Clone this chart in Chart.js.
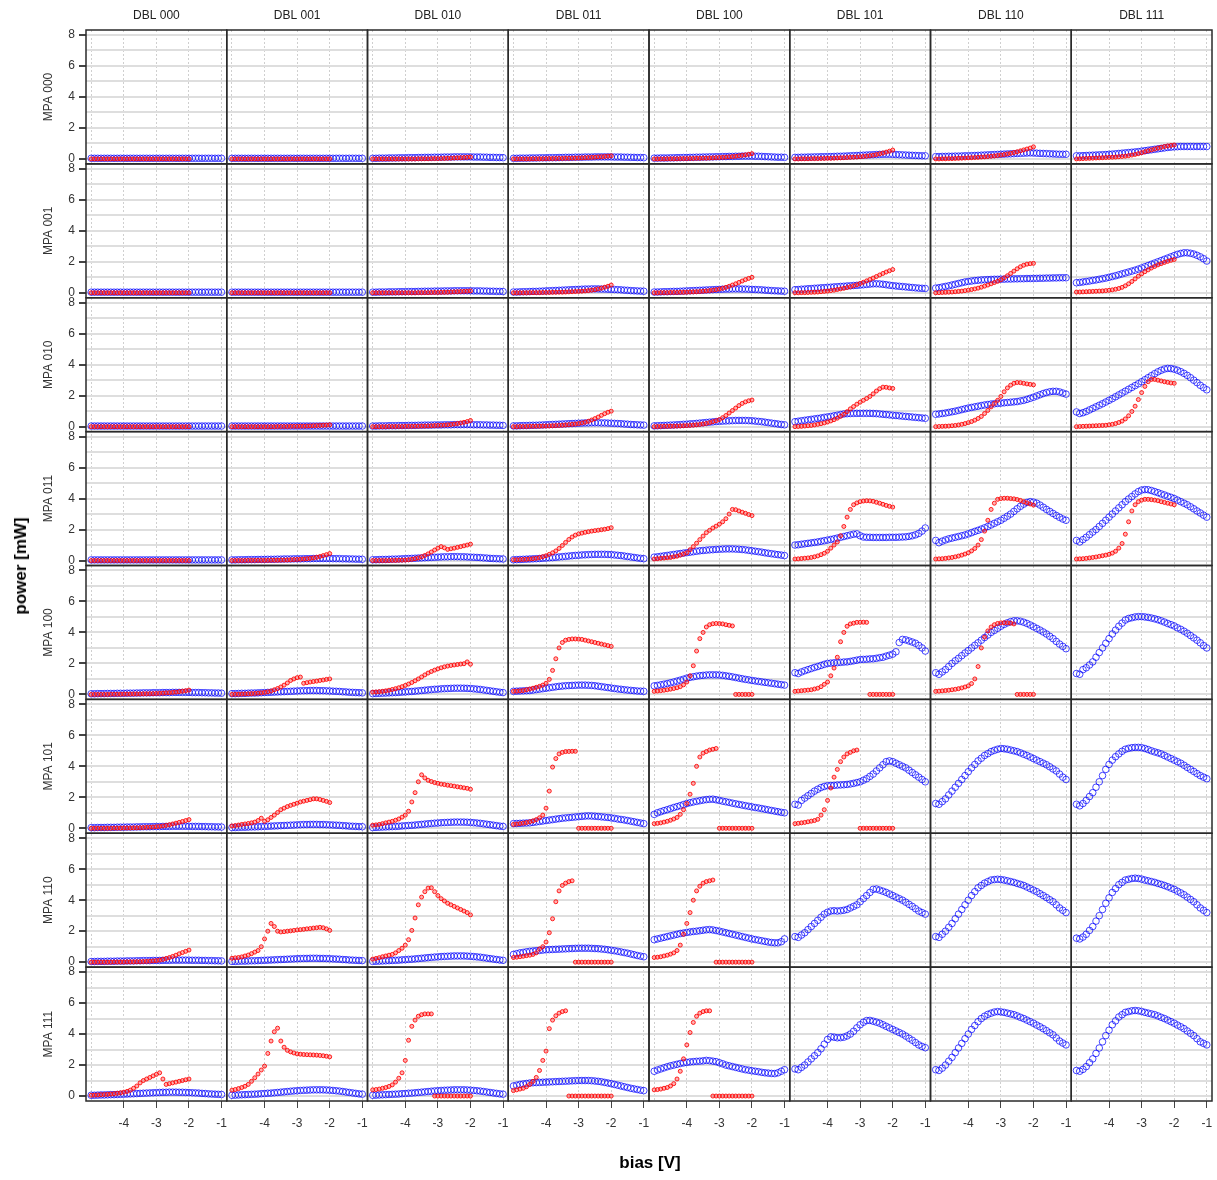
<!DOCTYPE html>
<html>
<head>
<meta charset="utf-8">
<script src="https://cdn.jsdelivr.net/npm/chart.js@4.4.1/dist/chart.umd.min.js"></script>
<style>
  body { margin: 0; background: #fff; }
  #wrap { position: relative; width: 1217px; height: 1180px; }
  .axlab { position: absolute; font: bold 17px "Liberation Sans", Arial, sans-serif; color: #000; white-space: nowrap; }
</style>
</head>
<body>
<div id="wrap">
  <canvas id="grid"></canvas>
  <div class="axlab" style="left:21px;top:566px;transform:translate(-50%,-50%) rotate(-90deg);">power [mW]</div>
  <div class="axlab" style="left:650px;top:1163px;transform:translate(-50%,-50%);">bias [V]</div>
</div>
<script>
// panel labels
const dblLabels = ["DBL 000", "DBL 001", "DBL 010", "DBL 011", "DBL 100", "DBL 101", "DBL 110", "DBL 111"];
const mpaLabels = ["MPA 000", "MPA 001", "MPA 010", "MPA 011", "MPA 100", "MPA 101", "MPA 110", "MPA 111"];

// bias values of the two sweeps
const biasOpen = [-5,-4.9,-4.8,-4.7,-4.6,-4.5,-4.4,-4.3,-4.2,-4.1,
  -4,-3.9,-3.8,-3.7,-3.6,-3.5,-3.4,-3.3,-3.2,-3.1,
  -3,-2.9,-2.8,-2.7,-2.6,-2.5,-2.4,-2.3,-2.2,-2.1,
  -2,-1.9,-1.8,-1.7,-1.6,-1.5,-1.4,-1.3,-1.2,-1.1,
  -1];
const biasDot = [-5,-4.9,-4.8,-4.7,-4.6,-4.5,-4.4,-4.3,-4.2,-4.1,
  -4,-3.9,-3.8,-3.7,-3.6,-3.5,-3.4,-3.3,-3.2,-3.1,
  -3,-2.9,-2.8,-2.7,-2.6,-2.5,-2.4,-2.3,-2.2,-2.1,
  -2];

// curves that repeat in several panels
const flatOpen = [0.04,0.04,0.04,0.04,0.04,0.04,0.04,0.04,0.04,0.04,
  0.04,0.04,0.04,0.04,0.04,0.04,0.04,0.04,0.04,0.04,
  0.04,0.04,0.04,0.04,0.04,0.04,0.04,0.04,0.04,0.04,
  0.04,0.04,0.04,0.04,0.04,0.04,0.04,0.04,0.04,0.04,
  0.04];
const lowOpen = [0.04,0.04,0.05,0.05,0.05,0.06,0.06,0.06,0.07,0.07,
  0.07,0.08,0.08,0.08,0.09,0.09,0.1,0.1,0.1,0.11,
  0.11,0.11,0.12,0.12,0.12,0.13,0.13,0.13,0.13,0.13,
  0.13,0.12,0.12,0.12,0.11,0.11,0.1,0.1,0.09,0.09,
  0.08];
const midOpen = [0.05,0.05,0.06,0.07,0.07,0.08,0.09,0.09,0.1,0.11,
  0.12,0.13,0.14,0.15,0.16,0.17,0.18,0.19,0.2,0.21,
  0.22,0.23,0.24,0.24,0.25,0.25,0.25,0.24,0.24,0.23,
  0.22,0.21,0.2,0.19,0.17,0.16,0.14,0.13,0.12,0.11,
  0.1];
const highOpen = [0.05,0.06,0.07,0.08,0.09,0.1,0.11,0.12,0.13,0.15,
  0.16,0.18,0.19,0.21,0.23,0.25,0.27,0.29,0.31,0.33,
  0.34,0.36,0.37,0.38,0.39,0.4,0.4,0.4,0.4,0.39,
  0.38,0.36,0.34,0.32,0.29,0.26,0.23,0.2,0.17,0.14,
  0.12];
const flatDot = [0,0,0,0,0,0,0,0,0,0,
  0,0,0,0,0,0,0,0,0,0,
  0,0,0,0,0,0,0,0,0,0,
  0];
const creepDot = [0,0,0,0,0,0,0,0,0,0,
  0,0,0,0,0.01,0.01,0.01,0.01,0.02,0.02,
  0.02,0.03,0.03,0.04,0.05,0.06,0.07,0.08,0.09,0.1,
  0.12];

// power [mW], one row of panels per MPA setting (open circles / dots)
const openMPA000 = [flatOpen, flatOpen, lowOpen, lowOpen,
  [0.05,0.05,0.06,0.06,0.06,0.07,0.07,0.08,0.08,0.09,
   0.09,0.1,0.1,0.11,0.11,0.12,0.12,0.13,0.13,0.14,
   0.14,0.15,0.15,0.16,0.16,0.17,0.17,0.18,0.18,0.18,
   0.18,0.17,0.17,0.16,0.15,0.14,0.13,0.12,0.11,0.11,
   0.1],
  [0.1,0.1,0.11,0.11,0.12,0.12,0.13,0.13,0.14,0.14,
   0.15,0.15,0.16,0.17,0.17,0.18,0.19,0.2,0.21,0.22,
   0.23,0.24,0.25,0.26,0.27,0.28,0.29,0.3,0.3,0.3,
   0.29,0.28,0.27,0.26,0.25,0.24,0.23,0.22,0.21,0.2,
   0.2],
  [0.15,0.15,0.16,0.16,0.17,0.17,0.18,0.18,0.19,0.2,
   0.2,0.21,0.22,0.23,0.24,0.25,0.26,0.27,0.28,0.29,
   0.3,0.31,0.32,0.33,0.34,0.35,0.36,0.37,0.38,0.39,
   0.38,0.37,0.36,0.35,0.34,0.33,0.32,0.31,0.3,0.3,
   0.3],
  [0.2,0.2,0.21,0.22,0.23,0.24,0.25,0.26,0.27,0.28,
   0.3,0.31,0.33,0.35,0.37,0.39,0.41,0.43,0.45,0.47,
   0.5,0.53,0.56,0.59,0.62,0.65,0.68,0.71,0.74,0.76,
   0.78,0.79,0.8,0.8,0.8,0.8,0.8,0.8,0.8,0.8,
   0.8]];
const dotMPA000 = [flatDot, flatDot, creepDot,
  [0,0,0,0,0,0,0.01,0.01,0.01,0.01,
   0.02,0.02,0.02,0.03,0.03,0.03,0.04,0.04,0.05,0.05,
   0.06,0.07,0.08,0.09,0.1,0.11,0.13,0.14,0.16,0.18,
   0.2],
  [0,0,0,0,0.01,0.01,0.01,0.01,0.02,0.02,
   0.02,0.03,0.03,0.04,0.04,0.05,0.05,0.06,0.07,0.08,
   0.09,0.1,0.11,0.13,0.15,0.17,0.2,0.23,0.26,0.3,
   0.34],
  [0,0,0.01,0.01,0.01,0.02,0.02,0.02,0.03,0.03,
   0.04,0.04,0.05,0.06,0.07,0.08,0.09,0.1,0.11,0.12,
   0.14,0.16,0.18,0.21,0.24,0.28,0.33,0.38,0.44,0.5,
   0.57],
  [0,0,0.01,0.01,0.02,0.02,0.03,0.04,0.05,0.06,
   0.07,0.08,0.09,0.1,0.12,0.13,0.15,0.17,0.19,0.22,
   0.25,0.28,0.32,0.36,0.41,0.46,0.52,0.58,0.64,0.7,
   0.78],
  [0,0.01,0.02,0.03,0.04,0.05,0.06,0.07,0.08,0.09,
   0.1,0.11,0.12,0.14,0.16,0.18,0.21,0.25,0.29,0.34,
   0.4,0.46,0.52,0.58,0.64,0.7,0.75,0.8,0.84,0.87,
   0.9]];

const openMPA001 = [flatOpen, flatOpen, lowOpen, midOpen, midOpen,
  [0.2,0.21,0.23,0.24,0.26,0.27,0.29,0.3,0.32,0.33,
   0.35,0.36,0.38,0.39,0.41,0.42,0.44,0.45,0.47,0.48,
   0.5,0.52,0.54,0.56,0.58,0.58,0.57,0.55,0.52,0.49,
   0.46,0.44,0.42,0.4,0.38,0.36,0.34,0.32,0.3,0.29,
   0.28],
  [0.3,0.33,0.37,0.41,0.45,0.5,0.55,0.6,0.65,0.7,
   0.73,0.76,0.79,0.81,0.83,0.84,0.85,0.86,0.87,0.87,
   0.88,0.88,0.89,0.89,0.9,0.9,0.91,0.91,0.92,0.92,
   0.93,0.93,0.94,0.94,0.95,0.95,0.96,0.96,0.97,0.97,
   0.97],
  [0.65,0.67,0.7,0.73,0.76,0.8,0.83,0.87,0.91,0.95,
   1.0,1.05,1.1,1.16,1.22,1.28,1.34,1.4,1.46,1.53,
   1.6,1.68,1.76,1.84,1.92,2.0,2.08,2.16,2.24,2.32,
   2.4,2.48,2.54,2.58,2.58,2.55,2.5,2.42,2.32,2.2,
   2.05]];
const dotMPA001 = [flatDot, flatDot, creepDot,
  [0,0,0,0,0,0.01,0.01,0.01,0.01,0.02,
   0.02,0.02,0.03,0.03,0.04,0.04,0.05,0.06,0.07,0.08,
   0.09,0.1,0.12,0.14,0.17,0.2,0.25,0.3,0.36,0.42,
   0.5],
  [0,0,0.01,0.01,0.01,0.02,0.02,0.02,0.03,0.03,
   0.04,0.05,0.06,0.07,0.08,0.1,0.12,0.14,0.17,0.2,
   0.24,0.29,0.35,0.42,0.5,0.58,0.67,0.76,0.85,0.93,
   1.0],
  [0,0,0.01,0.01,0.02,0.03,0.04,0.05,0.07,0.09,
   0.11,0.14,0.17,0.21,0.25,0.29,0.34,0.39,0.45,0.51,
   0.6,0.68,0.77,0.86,0.95,1.05,1.15,1.25,1.34,1.42,
   1.5],
  [0,0.01,0.02,0.03,0.04,0.05,0.07,0.09,0.11,0.14,
   0.17,0.21,0.25,0.3,0.36,0.43,0.5,0.58,0.66,0.74,
   0.84,0.96,1.1,1.25,1.4,1.55,1.68,1.78,1.85,1.88,
   1.9],
  [0.05,0.05,0.06,0.07,0.08,0.09,0.1,0.11,0.12,0.14,
   0.16,0.19,0.23,0.28,0.35,0.45,0.58,0.73,0.9,1.07,
   1.22,1.36,1.48,1.6,1.7,1.8,1.88,1.96,2.03,2.1,
   2.15]];

const openMPA010 = [flatOpen, flatOpen, lowOpen, midOpen, highOpen,
  [0.32,0.35,0.38,0.41,0.44,0.47,0.5,0.53,0.56,0.6,
   0.63,0.66,0.7,0.74,0.78,0.82,0.84,0.85,0.86,0.86,
   0.86,0.86,0.86,0.86,0.85,0.84,0.82,0.8,0.78,0.76,
   0.74,0.72,0.7,0.68,0.66,0.64,0.62,0.6,0.58,0.56,
   0.54],
  [0.8,0.82,0.85,0.88,0.92,0.96,1.0,1.05,1.1,1.15,
   1.2,1.24,1.28,1.32,1.36,1.4,1.43,1.46,1.48,1.5,
   1.52,1.54,1.56,1.58,1.6,1.62,1.66,1.7,1.76,1.83,
   1.9,1.98,2.06,2.14,2.2,2.25,2.28,2.28,2.24,2.17,
   2.1],
  [0.95,0.85,0.9,0.98,1.08,1.18,1.28,1.38,1.48,1.59,
   1.7,1.81,1.93,2.05,2.17,2.29,2.41,2.53,2.65,2.77,
   2.9,3.03,3.16,3.29,3.42,3.54,3.64,3.72,3.76,3.75,
   3.71,3.64,3.55,3.44,3.31,3.16,3.0,2.84,2.67,2.52,
   2.38]];
const dotMPA010 = [flatDot, creepDot,
  [0,0,0,0,0,0.01,0.01,0.01,0.01,0.01,
   0.02,0.02,0.02,0.03,0.03,0.04,0.04,0.05,0.06,0.07,
   0.08,0.09,0.1,0.12,0.14,0.17,0.2,0.24,0.28,0.33,
   0.4],
  [0,0,0.01,0.01,0.01,0.02,0.02,0.03,0.03,0.04,
   0.04,0.05,0.06,0.07,0.08,0.09,0.11,0.13,0.15,0.17,
   0.2,0.24,0.29,0.35,0.43,0.52,0.62,0.73,0.84,0.93,
   1.0],
  [0,0.01,0.01,0.02,0.02,0.03,0.03,0.04,0.05,0.06,
   0.07,0.08,0.1,0.12,0.14,0.17,0.21,0.26,0.32,0.38,
   0.46,0.58,0.72,0.88,1.04,1.2,1.36,1.5,1.6,1.67,
   1.72],
  [0,0.01,0.02,0.04,0.06,0.08,0.11,0.15,0.19,0.24,
   0.3,0.37,0.45,0.55,0.67,0.8,0.97,1.15,1.3,1.45,
   1.58,1.7,1.82,1.95,2.12,2.3,2.45,2.55,2.54,2.5,
   2.47],
  [0,0.01,0.02,0.03,0.04,0.06,0.08,0.11,0.15,0.2,
   0.26,0.33,0.42,0.53,0.66,0.85,1.05,1.28,1.5,1.7,
   1.95,2.25,2.5,2.68,2.8,2.85,2.84,2.8,2.76,2.73,
   2.7],
  [0,0.01,0.02,0.03,0.04,0.05,0.06,0.07,0.08,0.09,
   0.12,0.15,0.2,0.27,0.36,0.5,0.7,0.98,1.32,1.75,
   2.2,2.6,2.9,3.05,3.05,3.0,2.95,2.9,2.86,2.82,
   2.8]];

const openMPA011 = [flatOpen, lowOpen, midOpen, highOpen,
  [0.22,0.24,0.27,0.3,0.33,0.36,0.39,0.42,0.45,0.48,
   0.51,0.54,0.57,0.6,0.63,0.65,0.67,0.69,0.7,0.72,
   0.73,0.74,0.75,0.75,0.75,0.74,0.73,0.71,0.69,0.66,
   0.63,0.6,0.57,0.54,0.5,0.47,0.44,0.41,0.38,0.35,
   0.32],
  [1.0,1.02,1.05,1.08,1.11,1.14,1.17,1.2,1.24,1.28,
   1.32,1.36,1.4,1.45,1.5,1.55,1.6,1.65,1.7,1.72,
   1.6,1.52,1.5,1.5,1.49,1.49,1.49,1.49,1.49,1.5,
   1.5,1.5,1.51,1.52,1.53,1.56,1.6,1.66,1.75,1.9,
   2.1],
  [1.3,1.15,1.25,1.33,1.4,1.45,1.5,1.55,1.6,1.65,
   1.72,1.8,1.88,1.95,2.03,2.11,2.2,2.3,2.4,2.5,
   2.6,2.73,2.86,3.0,3.17,3.34,3.5,3.64,3.75,3.8,
   3.77,3.7,3.58,3.44,3.3,3.17,3.04,2.91,2.79,2.68,
   2.6],
  [1.3,1.2,1.35,1.5,1.67,1.84,2.0,2.2,2.4,2.6,
   2.8,3.0,3.2,3.4,3.6,3.8,3.97,4.13,4.3,4.45,
   4.55,4.58,4.57,4.52,4.45,4.38,4.3,4.23,4.15,4.08,
   4.0,3.9,3.8,3.7,3.6,3.47,3.34,3.2,3.07,2.93,
   2.8]];
const dotMPA011 = [flatDot,
  [0,0,0,0,0,0.01,0.01,0.01,0.01,0.01,
   0.01,0.01,0.02,0.02,0.02,0.03,0.03,0.04,0.05,0.06,
   0.07,0.08,0.1,0.12,0.14,0.17,0.21,0.26,0.32,0.38,
   0.45],
  [0,0,0,0,0,0,0.01,0.01,0.02,0.02,
   0.03,0.05,0.08,0.12,0.17,0.24,0.33,0.43,0.55,0.68,
   0.8,0.9,0.82,0.72,0.76,0.8,0.85,0.9,0.95,1.0,
   1.06],
  [0.05,0.05,0.06,0.07,0.08,0.1,0.12,0.15,0.19,0.25,
   0.31,0.4,0.5,0.62,0.78,0.97,1.17,1.36,1.52,1.64,
   1.72,1.77,1.82,1.86,1.9,1.93,1.96,1.99,2.02,2.06,
   2.12],
  [0.1,0.12,0.14,0.16,0.18,0.2,0.24,0.28,0.35,0.42,
   0.5,0.7,0.9,1.12,1.35,1.58,1.8,1.95,2.1,2.22,
   2.35,2.5,2.7,3.0,3.3,3.28,3.2,3.12,3.05,2.97,
   2.9],
  [0.1,0.11,0.13,0.15,0.17,0.2,0.24,0.3,0.38,0.47,
   0.6,0.8,1.0,1.2,1.6,2.2,2.8,3.3,3.6,3.72,
   3.8,3.84,3.86,3.85,3.82,3.76,3.7,3.63,3.56,3.5,
   3.45],
  [0.1,0.11,0.12,0.14,0.17,0.2,0.24,0.29,0.35,0.42,
   0.5,0.62,0.78,1.0,1.35,1.9,2.6,3.3,3.7,3.95,
   4.0,4.02,4.02,4.0,3.98,3.94,3.88,3.8,3.72,3.65,
   3.58],
  [0.1,0.11,0.12,0.14,0.17,0.2,0.23,0.27,0.31,0.35,
   0.4,0.48,0.6,0.8,1.1,1.7,2.5,3.2,3.6,3.8,
   3.9,3.95,3.95,3.93,3.9,3.86,3.8,3.75,3.7,3.65,
   3.6]];

const openMPA100 = [lowOpen, midOpen, highOpen,
  [0.2,0.21,0.22,0.23,0.24,0.25,0.28,0.31,0.34,0.37,
   0.4,0.43,0.46,0.49,0.52,0.54,0.56,0.57,0.58,0.59,
   0.6,0.6,0.6,0.59,0.58,0.56,0.53,0.5,0.47,0.44,
   0.41,0.38,0.35,0.33,0.3,0.28,0.26,0.24,0.22,0.21,
   0.2],
  [0.55,0.58,0.62,0.66,0.7,0.75,0.8,0.86,0.92,0.98,
   1.05,1.1,1.14,1.18,1.21,1.23,1.25,1.26,1.26,1.26,
   1.25,1.23,1.2,1.17,1.13,1.09,1.05,1.01,0.97,0.94,
   0.9,0.87,0.84,0.81,0.78,0.75,0.72,0.69,0.66,0.63,
   0.6],
  [1.4,1.35,1.45,1.53,1.6,1.67,1.74,1.8,1.87,1.94,
   2.0,2.02,2.04,2.05,2.07,2.09,2.1,2.13,2.17,2.21,
   2.25,2.26,2.27,2.29,2.3,2.33,2.37,2.4,2.47,2.53,
   2.6,2.75,3.35,3.55,3.52,3.45,3.38,3.3,3.16,3.0,
   2.8],
  [1.4,1.3,1.45,1.6,1.8,2.0,2.17,2.33,2.5,2.67,
   2.83,3.0,3.17,3.33,3.5,3.67,3.83,4.0,4.13,4.27,
   4.4,4.52,4.62,4.7,4.75,4.75,4.72,4.66,4.58,4.48,
   4.37,4.26,4.15,4.03,3.9,3.75,3.6,3.42,3.25,3.1,
   2.95],
  [1.35,1.3,1.6,1.72,1.9,2.1,2.4,2.7,3.0,3.3,
   3.6,3.9,4.15,4.4,4.6,4.8,4.9,4.95,5.0,5.02,
   5.02,5.0,4.97,4.93,4.88,4.82,4.75,4.67,4.58,4.5,
   4.42,4.3,4.2,4.08,3.95,3.8,3.65,3.5,3.33,3.15,
   3.0]];
const dotMPA100 = [
  [0,0,0,0,0,0,0.01,0.01,0.01,0.01,
   0.02,0.02,0.02,0.03,0.03,0.03,0.04,0.04,0.05,0.05,
   0.06,0.07,0.08,0.1,0.11,0.13,0.15,0.18,0.21,0.24,
   0.28],
  [0,0.01,0.01,0.02,0.03,0.04,0.05,0.06,0.08,0.1,
   0.13,0.17,0.22,0.3,0.38,0.48,0.6,0.74,0.9,1.0,
   1.08,1.12,0.72,0.76,0.8,0.83,0.86,0.9,0.93,0.97,
   1.0],
  [0.15,0.16,0.18,0.2,0.23,0.27,0.32,0.37,0.43,0.5,
   0.58,0.67,0.77,0.88,1.0,1.13,1.26,1.38,1.48,1.57,
   1.65,1.72,1.78,1.83,1.87,1.9,1.93,1.96,1.98,2.1,
   1.95],
  [0.2,0.21,0.23,0.25,0.3,0.35,0.4,0.46,0.52,0.6,
   0.72,0.97,1.55,2.3,3.0,3.35,3.5,3.55,3.58,3.58,
   3.57,3.55,3.5,3.45,3.4,3.35,3.3,3.25,3.2,3.15,
   3.1],
  [0.2,0.22,0.24,0.27,0.3,0.34,0.38,0.43,0.5,0.62,
   0.8,1.2,1.85,2.8,3.6,4.0,4.35,4.5,4.56,4.58,
   4.57,4.55,4.5,4.46,4.42,0,0,0,0,0,
   0],
  [0.2,0.22,0.24,0.26,0.28,0.3,0.35,0.4,0.5,0.65,
   0.8,1.2,1.7,2.4,3.4,4.0,4.4,4.55,4.6,4.65,
   4.65,4.66,4.65,0,0,0,0,0,0,0,
   0],
  [0.2,0.21,0.23,0.25,0.27,0.3,0.33,0.37,0.42,0.48,
   0.55,0.7,1.0,1.8,3.0,3.7,4.1,4.35,4.5,4.58,
   4.62,4.63,4.62,4.6,4.55,0,0,0,0,0,
   0],
  []];

const openMPA101 = [lowOpen, midOpen, highOpen,
  [0.3,0.31,0.32,0.33,0.34,0.35,0.38,0.41,0.44,0.47,
   0.5,0.53,0.56,0.59,0.62,0.65,0.67,0.69,0.71,0.73,
   0.75,0.77,0.79,0.8,0.79,0.78,0.76,0.74,0.72,0.7,
   0.67,0.64,0.6,0.57,0.54,0.5,0.46,0.42,0.38,0.34,
   0.3],
  [0.9,1.0,1.07,1.14,1.2,1.27,1.34,1.4,1.46,1.53,
   1.6,1.65,1.7,1.74,1.78,1.82,1.85,1.87,1.88,1.84,
   1.8,1.75,1.71,1.67,1.62,1.58,1.54,1.5,1.46,1.42,
   1.38,1.34,1.31,1.27,1.23,1.19,1.15,1.11,1.07,1.03,
   1.0],
  [1.55,1.5,1.8,1.95,2.1,2.25,2.4,2.52,2.63,2.7,
   2.75,2.76,2.77,2.79,2.8,2.81,2.83,2.86,2.9,2.95,
   3.0,3.1,3.2,3.35,3.5,3.7,3.9,4.1,4.3,4.35,
   4.3,4.2,4.1,4.0,3.9,3.75,3.6,3.45,3.3,3.15,
   3.0],
  [1.6,1.55,1.72,1.9,2.15,2.4,2.65,2.9,3.15,3.4,
   3.65,3.9,4.12,4.35,4.52,4.7,4.82,4.95,5.03,5.1,
   5.15,5.13,5.1,5.05,5.0,4.95,4.87,4.78,4.7,4.6,
   4.5,4.4,4.3,4.2,4.1,3.97,3.83,3.7,3.5,3.3,
   3.15],
  [1.55,1.45,1.6,1.8,2.05,2.3,2.65,3.0,3.4,3.8,
   4.12,4.4,4.62,4.8,4.97,5.1,5.16,5.2,5.22,5.22,
   5.2,5.15,5.08,5.0,4.93,4.87,4.8,4.7,4.6,4.5,
   4.4,4.3,4.2,4.07,3.93,3.8,3.67,3.53,3.4,3.3,
   3.2]];
const dotMPA101 = [
  [0,0,0,0,0,0,0,0.01,0.01,0.01,
   0.02,0.02,0.02,0.03,0.03,0.04,0.05,0.06,0.07,0.08,
   0.1,0.12,0.15,0.19,0.23,0.28,0.33,0.38,0.44,0.5,
   0.56],
  [0.15,0.18,0.21,0.25,0.28,0.31,0.35,0.4,0.5,0.65,
   0.45,0.55,0.7,0.85,1.02,1.2,1.3,1.4,1.48,1.55,
   1.62,1.7,1.75,1.8,1.85,1.9,1.9,1.86,1.8,1.74,
   1.66],
  [0.2,0.22,0.25,0.3,0.35,0.4,0.45,0.52,0.6,0.72,
   0.85,1.1,1.7,2.3,3.0,3.45,3.25,3.1,3.02,2.95,
   2.9,2.85,2.82,2.78,2.75,2.72,2.68,2.65,2.61,2.58,
   2.52],
  [0.25,0.27,0.3,0.33,0.37,0.42,0.48,0.56,0.68,0.85,
   1.3,2.4,3.95,4.5,4.8,4.9,4.95,4.96,4.97,4.97,
   0,0,0,0,0,0,0,0,0,0,
   0],
  [0.3,0.32,0.35,0.4,0.45,0.52,0.6,0.7,0.9,1.2,
   1.6,2.2,2.9,4.0,4.6,4.85,4.95,5.05,5.1,5.15,
   0,0,0,0,0,0,0,0,0,0,
   0],
  [0.3,0.32,0.35,0.38,0.42,0.46,0.5,0.58,0.85,1.2,
   1.8,2.6,3.3,3.8,4.3,4.6,4.8,4.9,5.0,5.05,
   0,0,0,0,0,0,0,0,0,0,
   0],
  [], []];

const openMPA110 = [lowOpen, midOpen, highOpen,
  [0.5,0.55,0.6,0.63,0.67,0.7,0.72,0.74,0.76,0.78,
   0.8,0.81,0.82,0.83,0.84,0.85,0.86,0.87,0.88,0.89,
   0.9,0.9,0.9,0.9,0.89,0.88,0.87,0.85,0.83,0.8,
   0.77,0.74,0.7,0.66,0.62,0.58,0.53,0.48,0.43,0.39,
   0.35],
  [1.45,1.5,1.55,1.6,1.65,1.7,1.75,1.8,1.85,1.88,
   1.92,1.95,1.98,2.0,2.03,2.06,2.09,2.1,2.08,2.04,
   2.0,1.95,1.9,1.85,1.8,1.75,1.7,1.65,1.6,1.55,
   1.5,1.46,1.42,1.38,1.34,1.3,1.27,1.25,1.25,1.32,
   1.5],
  [1.65,1.6,1.75,1.9,2.1,2.3,2.5,2.7,2.9,3.1,
   3.22,3.3,3.32,3.3,3.32,3.35,3.4,3.5,3.6,3.7,
   3.9,4.1,4.3,4.5,4.7,4.72,4.65,4.58,4.5,4.4,
   4.3,4.2,4.1,4.0,3.87,3.73,3.6,3.45,3.3,3.2,
   3.1],
  [1.65,1.6,1.8,2.0,2.25,2.5,2.8,3.1,3.4,3.7,
   4.0,4.3,4.55,4.8,4.95,5.1,5.2,5.3,5.33,5.35,
   5.33,5.3,5.25,5.2,5.15,5.08,5.02,4.95,4.85,4.75,
   4.65,4.55,4.42,4.3,4.17,4.03,3.9,3.7,3.5,3.35,
   3.2],
  [1.55,1.5,1.62,1.8,2.05,2.3,2.65,3.0,3.4,3.8,
   4.15,4.5,4.75,5.0,5.15,5.3,5.35,5.4,5.42,5.4,
   5.36,5.3,5.25,5.2,5.15,5.08,5.02,4.95,4.87,4.78,
   4.7,4.58,4.47,4.35,4.2,4.05,3.9,3.7,3.5,3.35,
   3.2]];
const dotMPA110 = [
  [0,0,0,0,0,0,0,0.01,0.01,0.01,
   0.01,0.02,0.02,0.02,0.03,0.03,0.04,0.05,0.06,0.08,
   0.1,0.13,0.18,0.24,0.3,0.37,0.45,0.54,0.62,0.7,
   0.78],
  [0.25,0.28,0.3,0.34,0.4,0.46,0.55,0.65,0.75,1.0,
   1.5,2.0,2.5,2.3,2.0,1.95,1.97,2.0,2.02,2.05,
   2.08,2.1,2.12,2.15,2.17,2.2,2.22,2.25,2.22,2.15,
   2.05],
  [0.2,0.24,0.29,0.35,0.4,0.45,0.5,0.6,0.75,0.9,
   1.1,1.45,2.05,2.85,3.7,4.2,4.55,4.78,4.8,4.55,
   4.3,4.1,3.95,3.8,3.7,3.6,3.5,3.4,3.3,3.2,
   3.05],
  [0.3,0.32,0.35,0.38,0.42,0.45,0.5,0.6,0.85,1.0,
   1.3,1.9,2.8,3.9,4.6,4.95,5.1,5.2,5.25,0,
   0,0,0,0,0,0,0,0,0,0,
   0],
  [0.3,0.32,0.35,0.4,0.45,0.52,0.6,0.75,1.1,1.8,
   2.5,3.2,4.0,4.6,4.9,5.1,5.2,5.25,5.3,0,
   0,0,0,0,0,0,0,0,0,0,
   0],
  [], [], []];

const openMPA111 = [midOpen, highOpen, highOpen,
  [0.65,0.7,0.75,0.78,0.81,0.84,0.86,0.87,0.88,0.89,
   0.9,0.91,0.92,0.93,0.94,0.95,0.96,0.97,0.98,0.99,
   1.0,1.0,1.0,1.0,0.99,0.97,0.95,0.92,0.88,0.84,
   0.8,0.75,0.7,0.65,0.6,0.55,0.5,0.46,0.42,0.38,
   0.35],
  [1.6,1.68,1.75,1.82,1.89,1.95,2.0,2.05,2.1,2.14,
   2.17,2.2,2.22,2.24,2.25,2.27,2.3,2.28,2.25,2.22,
   2.15,2.08,2.0,1.95,1.9,1.85,1.8,1.75,1.7,1.67,
   1.63,1.6,1.57,1.53,1.5,1.48,1.46,1.45,1.5,1.6,
   1.7],
  [1.75,1.7,1.85,2.0,2.2,2.4,2.6,2.8,3.05,3.35,
   3.65,3.82,3.8,3.76,3.77,3.8,3.88,4.0,4.18,4.4,
   4.6,4.76,4.87,4.88,4.83,4.77,4.7,4.6,4.5,4.4,
   4.3,4.2,4.1,4.0,3.87,3.73,3.6,3.45,3.3,3.2,
   3.12],
  [1.7,1.65,1.8,2.0,2.25,2.5,2.8,3.1,3.4,3.7,
   4.0,4.3,4.55,4.8,5.0,5.15,5.27,5.35,5.42,5.45,
   5.43,5.4,5.35,5.3,5.25,5.17,5.08,5.0,4.9,4.8,
   4.7,4.58,4.47,4.35,4.22,4.08,3.95,3.75,3.55,3.42,
   3.3],
  [1.65,1.6,1.72,1.9,2.15,2.4,2.75,3.1,3.5,3.9,
   4.25,4.6,4.85,5.1,5.25,5.4,5.45,5.5,5.52,5.5,
   5.46,5.4,5.35,5.3,5.25,5.17,5.08,5.0,4.9,4.8,
   4.7,4.58,4.47,4.35,4.2,4.05,3.9,3.7,3.5,3.4,
   3.3]];
const dotMPA111 = [
  [0.05,0.06,0.07,0.09,0.1,0.11,0.13,0.15,0.18,0.21,
   0.25,0.3,0.38,0.5,0.65,0.85,1.0,1.1,1.2,1.3,
   1.4,1.5,1.1,0.75,0.8,0.85,0.9,0.95,1.0,1.05,
   1.1],
  [0.38,0.42,0.48,0.55,0.63,0.75,0.95,1.18,1.42,1.68,
   1.93,2.75,3.55,4.15,4.38,3.55,3.15,2.95,2.85,2.78,
   2.72,2.7,2.68,2.67,2.66,2.65,2.64,2.62,2.6,2.57,
   2.53],
  [0.4,0.42,0.45,0.5,0.55,0.62,0.72,0.9,1.15,1.5,
   2.3,3.6,4.5,4.9,5.15,5.25,5.3,5.3,5.3,0,
   0,0,0,0,0,0,0,0,0,0,
   0],
  [0.35,0.4,0.45,0.5,0.6,0.75,0.95,1.2,1.65,2.3,
   2.9,4.35,4.9,5.18,5.35,5.45,5.5,0,0,0,
   0,0,0,0,0,0,0,0,0,0,
   0],
  [0.4,0.42,0.45,0.5,0.55,0.65,0.8,1.1,1.6,2.4,
   3.3,4.1,4.75,5.15,5.35,5.45,5.5,5.5,0,0,
   0,0,0,0,0,0,0,0,0,0,
   0],
  [], [], []];

const openRows = [openMPA000, openMPA001, openMPA010, openMPA011, openMPA100, openMPA101, openMPA110, openMPA111];
const dotRows = [dotMPA000, dotMPA001, dotMPA010, dotMPA011, dotMPA100, dotMPA101, dotMPA110, dotMPA111];

Chart.defaults.font.family = "'Liberation Sans', Arial, sans-serif";
Chart.defaults.font.size = 12;

const datasets = [];
dotRows.forEach((row, r) => {
  row.forEach((vals, c) => {
    if (!vals.length) return;
    datasets.push({
      data: biasDot.map((x, i) => ({x: x, y: vals[i]})),
      xAxisID: "x" + c, yAxisID: "y" + r, order: 0,
      pointRadius: 2, pointBorderWidth: 1,
      pointBorderColor: "rgba(255,0,0,0.85)", pointBackgroundColor: "rgba(255,60,60,0.4)"
    });
  });
});
openRows.forEach((row, r) => {
  row.forEach((vals, c) => {
    datasets.push({
      data: biasOpen.map((x, i) => ({x: x, y: vals[i]})),
      xAxisID: "x" + c, yAxisID: "y" + r, order: 1,
      pointRadius: 3.3, pointBorderWidth: 1,
      pointBorderColor: "rgba(0,0,255,0.72)", pointBackgroundColor: "rgba(0,0,0,0)"
    });
  });
});

const noPad = s => { s.paddingLeft = 0; s.paddingRight = 0; s.paddingTop = 0; s.paddingBottom = 0; };

// Chart.js stacks left and top boxes in reverse, so those are added last-first
const scales = {};
dblLabels.forEach((lab, c) => {
  scales["x" + c] = {
    type: "linear", position: "bottom", stack: "bias", stackWeight: 1,
    min: -5.16, max: -0.84,
    afterFit: s => { s.height = 79; noPad(s); },
    ticks: { stepSize: 1, includeBounds: false, autoSkip: false, maxRotation: 0, padding: 8, color: "#333",
      callback: v => v === -5 ? "" : String(v) },
    grid: { color: "#cfcfcf", lineWidth: 1, tickLength: 7,
      tickColor: ctx => (ctx.tick && ctx.tick.value === -5) ? "rgba(0,0,0,0)" : "#444" },
    border: { display: false, dash: [2, 2] }
  };
});
for (let c = 7; c >= 0; c--) {
  scales["t" + c] = {
    type: "linear", position: "top", stack: "strip", stackWeight: 1, min: 0, max: 1,
    afterFit: s => { s.height = 30; noPad(s); },
    ticks: { display: false }, grid: { display: false }, border: { display: false },
    title: { display: true, text: dblLabels[c], color: "#222", padding: { top: 8, bottom: 0 } }
  };
}
for (let r = 7; r >= 0; r--) {
  scales["y" + r] = {
    type: "linear", position: "left", stack: "power", stackWeight: 1,
    min: -0.32, max: 8.32,
    afterFit: s => { s.width = 86; noPad(s); },
    ticks: { stepSize: 1, includeBounds: false, autoSkip: false, padding: 4, color: "#333",
      callback: v => v % 2 === 0 ? String(v) : "" },
    grid: { color: "#dedede", lineWidth: 2, tickLength: 7,
      tickColor: ctx => (ctx.tick && ctx.tick.value % 2 === 0) ? "#444" : "rgba(0,0,0,0)" },
    border: { display: false },
    title: { display: true, text: mpaLabels[r], color: "#333", padding: { top: 41, bottom: 0 } }
  };
}

// dark frame round every panel
const panelFrames = {
  id: "panelFrames",
  beforeDatasetsDraw(chart) {
    const ctx = chart.ctx;
    ctx.save();
    ctx.strokeStyle = "#2a2a2a";
    ctx.lineWidth = 1.5;
    for (let c = 0; c < 8; c++) {
      const xs = chart.scales["x" + c];
      for (let r = 0; r < 8; r++) {
        const ys = chart.scales["y" + r];
        ctx.strokeRect(xs.left, ys.top, xs.right - xs.left, ys.bottom - ys.top);
      }
    }
    ctx.restore();
  }
};

new Chart(document.getElementById("grid"), {
  type: "scatter",
  data: { datasets: datasets },
  options: {
    responsive: true, maintainAspectRatio: false, animation: false, events: [],
    layout: { padding: { left: 0, right: 0, top: 0, bottom: 0 } },
    plugins: { legend: { display: false }, tooltip: { enabled: false } },
    scales: scales
  },
  plugins: [panelFrames]
});
</script>
</body>
</html>
